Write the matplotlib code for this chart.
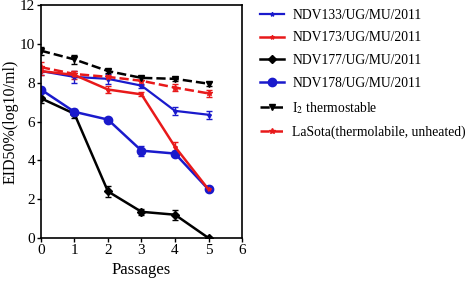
import matplotlib
matplotlib.use("Agg")
import matplotlib.pyplot as plt
from matplotlib.lines import Line2D

plt.rcParams['font.family'] = ['Liberation Serif', 'DejaVu Serif']
plt.rcParams['mathtext.fontset'] = 'stix'

# === Datos ===
passages = [0, 1, 2, 3, 4, 5]
ndv133 = [8.6, 8.3, 8.2, 7.85, 6.55, 6.35]
ndv133_err = [0.2, 0.3, 0.25, 0.1, 0.2, 0.2]
ndv173 = [8.6, 8.4, 7.65, 7.4, 4.7, 2.5]
ndv173_err = [0.2, 0.2, 0.2, 0.1, 0.25, 0.1]
ndv177 = [7.2, 6.4, 2.4, 1.35, 1.2, 0.0]
ndv177_err = [0.25, 0.2, 0.3, 0.15, 0.25, 0.05]
ndv178 = [7.65, 6.5, 6.1, 4.5, 4.35, 2.5]
ndv178_err = [0.15, 0.15, 0.1, 0.25, 0.15, 0.1]
i2 = [9.65, 9.2, 8.6, 8.25, 8.2, 7.95]
i2_err = [0.2, 0.25, 0.1, 0.1, 0.1, 0.1]
lasota = [8.8, 8.45, 8.3, 8.1, 7.75, 7.45]
lasota_err = [0.25, 0.15, 0.1, 0.2, 0.2, 0.2]

labels = ["NDV133/UG/MU/2011", "NDV173/UG/MU/2011", "NDV177/UG/MU/2011",
          "NDV178/UG/MU/2011", "I$_2$ thermostable",
          "LaSota(thermolabile, unheated)"]

fig = plt.figure(figsize=(4.7, 2.82), dpi=100)
ax = fig.add_axes([0.087, 0.156, 0.428, 0.826])

series = [
    (ndv133, ndv133_err, "#1a1acc", "-", "*", 3, 1.6),
    (ndv173, ndv173_err, "#e8191a", "-", "*", 3, 1.8),
    (ndv177, ndv177_err, "black", "-", "D", 4, 1.8),
    (ndv178, ndv178_err, "#1a1acc", "-", "o", 6, 1.8),
    (i2, i2_err, "black", "--", "v", 4, 1.8),
    (lasota, lasota_err, "#e8191a", "--", "*", 4, 1.8),
]
# orden de dibujo como en la figura original
for vals, err, c, ls, mk, ms, lw in [series[i] for i in (2, 3, 0, 1, 5, 4)]:
    ax.errorbar(passages, vals, yerr=err, color=c, ls=ls, marker=mk, ms=ms,
                lw=lw, capsize=2.5, elinewidth=1, capthick=1)

ax.set_xlim(0, 6)
ax.set_ylim(0, 12)
ax.set_xticks(range(0, 7))
ax.set_yticks(range(0, 13, 2))
ax.tick_params(labelsize=11, length=3, width=1, direction="out", pad=1)
for s in ax.spines.values():
    s.set_linewidth(1.2)
ax.set_xlabel("Passages", fontsize=12, labelpad=4)
ax.set_ylabel("EID50%(log10/ml)", fontsize=11.5, labelpad=1)

handles = [Line2D([], [], color=c, ls=ls, marker=mk, ms=ms, lw=lw)
           for vals, err, c, ls, mk, ms, lw in series]
fig.legend(handles, labels, loc="upper left", bbox_to_anchor=(0.528, 1.013),
           frameon=False, fontsize=9.8, handlelength=1.75, labelspacing=0.72,
           handletextpad=0.6)

fig.savefig("out.png", dpi=100)
